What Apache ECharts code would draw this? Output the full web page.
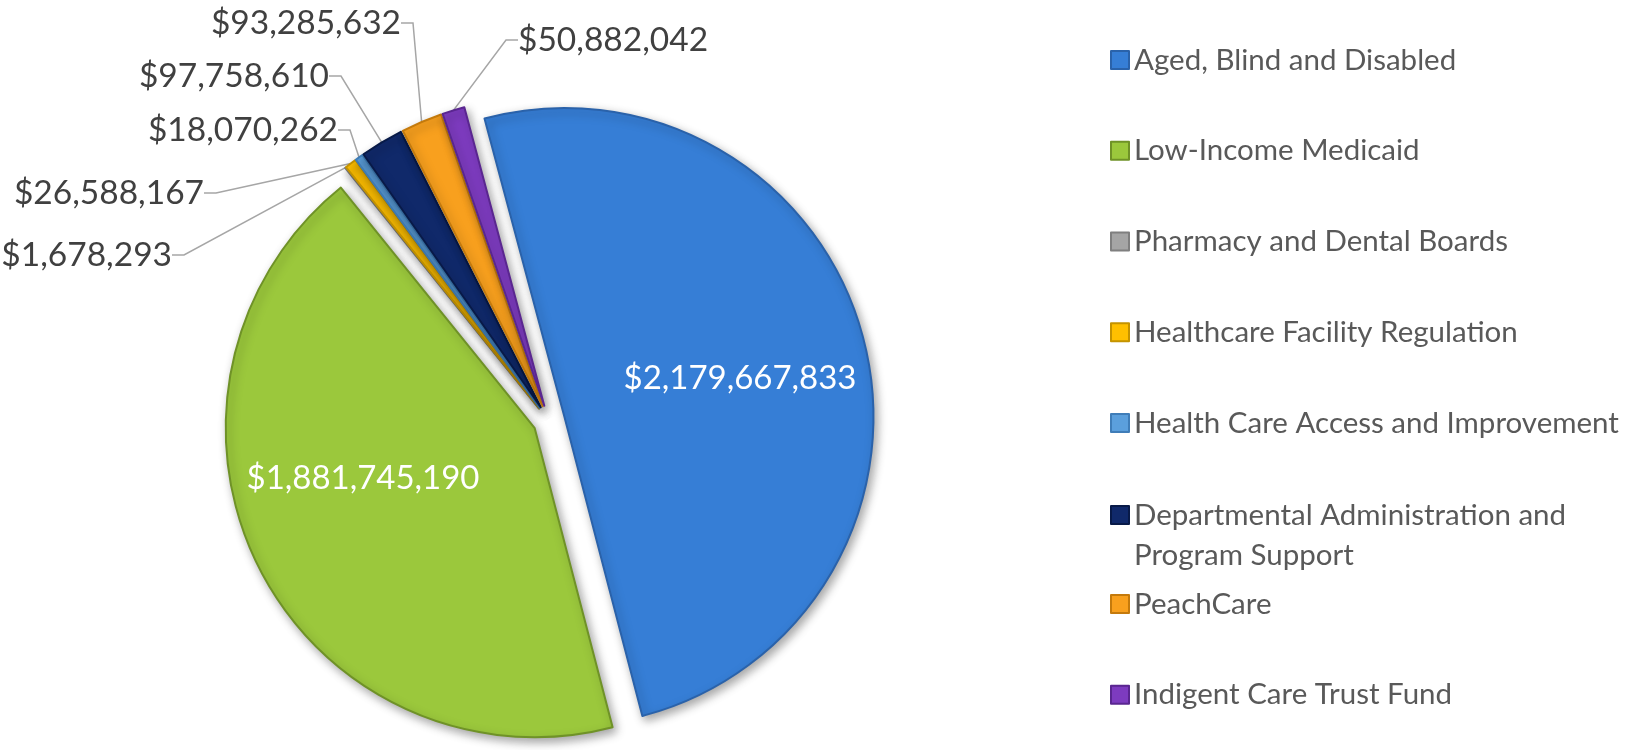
<!DOCTYPE html>
<html>
<head>
<meta charset="utf-8">
<title>Budget by Program</title>
<script src="https://cdn.jsdelivr.net/npm/echarts@6/dist/echarts.min.js"></script>
<style>
  html, body { margin: 0; padding: 0; background: #ffffff; }
  #chart { width: 1633px; height: 750px; }
</style>
</head>
<body>
<div id="chart"></div>
<script>
// Program names (legend order, clockwise from the top of the pie)
const programs = [
  'Aged, Blind and Disabled',
  'Low-Income Medicaid',
  'Pharmacy and Dental Boards',
  'Healthcare Facility Regulation',
  'Health Care Access and Improvement',
  'Departmental Administration and Program Support',
  'PeachCare',
  'Indigent Care Trust Fund'
];

// Funding amounts in dollars
const amounts = [
  2179667833,
  1881745190,
  1678293,
  26588167,
  18070262,
  97758610,
  93285632,
  50882042
];

// Slice fills and their darker rims
const fills = ['#367ED6', '#9BC83C', '#A5A5A5', '#FFC000', '#5B9FDC', '#10296A', '#F8A01E', '#7D3BBF'];
const rims  = ['#2A62AA', '#6F9227', '#7F7F7F', '#C49300', '#3F7DB8', '#081A48', '#C47A0C', '#5A2690'];

// Where each value label sits: [x, y, align]
const labelSpots = [
  [740, 378, 'center'],
  [363, 478, 'center'],
  [172, 255, 'right'],
  [204, 193, 'right'],
  [338, 130, 'right'],
  [329, 76, 'right'],
  [401, 23, 'right'],
  [518, 40, 'left']
];

const money = v => '$' + v.toLocaleString('en-US');
const FONT = 'Lato, "Open Sans", sans-serif';

// Pie geometry: the first slice begins 15 degrees left of 12 o'clock
const CENTER = [549, 421];
const RADIUS = 309;
const START = 105;          // ECharts angle (counter-clockwise from 3 o'clock)
const EXPLODE = 16;         // every slice is pulled out by this many pixels

// Each slice is pulled away from the centre along its own bisector
const total = amounts.reduce((a, b) => a + b, 0);
let running = 0;
const bisectors = amounts.map(v => {
  const mid = running + v / 2;
  running += v;
  return (START - 360 * mid / total) * Math.PI / 180;
});

// One pie layer per program; only its own slice is painted in that layer
const layers = programs.map((_, k) => ({
  type: 'pie',
  center: [
    CENTER[0] + EXPLODE * Math.cos(bisectors[k]),
    CENTER[1] - EXPLODE * Math.sin(bisectors[k])
  ],
  radius: [0, RADIUS],
  startAngle: START,
  clockwise: true,
  silent: true,
  avoidLabelOverlap: false,
  emphasis: { disabled: true },
  label: {
    position: 'outside',
    fontFamily: FONT,
    formatter: p => money(p.value)
  },
  labelLine: {
    length: 10,
    length2: 12,
    smooth: false,
    lineStyle: { color: '#A6A6A6', width: 1.5 }
  },
  labelLayout: params => {
    const s = labelSpots[k];
    return { x: s[0], y: s[1], align: s[2], verticalAlign: 'middle' };
  },
  data: programs.map((name, i) => {
    const own = i === k;
    const inner = i < 2;
    return {
      name: name,
      value: amounts[i],
      itemStyle: own
        ? {
            color: fills[i], borderColor: rims[i], borderWidth: 2,
            shadowBlur: 10, shadowColor: 'rgba(0,0,0,0.35)',
            shadowOffsetX: 3, shadowOffsetY: 4
          }
        : { color: 'rgba(0,0,0,0)', borderWidth: 0, shadowColor: 'rgba(0,0,0,0)' },
      label: own
        ? (inner ? { show: true, color: '#ffffff', fontSize: 33 }
                 : { show: true, color: '#404040', fontSize: 33.5 })
        : { show: false },
      labelLine: { show: own && !inner }
    };
  })
}));

const legendItems = programs.map((name, i) => ({
  name: name,
  itemStyle: { color: fills[i], borderColor: rims[i], borderWidth: 2 }
}));
const legendText = { fontFamily: FONT, fontSize: 29.5, color: '#595959' };
const legendBase = {
  orient: 'vertical', left: 1105,
  itemWidth: 18, itemHeight: 18, itemGap: 60.75,
  selectedMode: false, icon: 'rect',
  textStyle: legendText
};

const chart = echarts.init(document.getElementById('chart'), null, { renderer: 'canvas' });
chart.setOption({
  animation: false,
  backgroundColor: '#ffffff',
  legend: [
    Object.assign({}, legendBase, { top: 40, data: legendItems.slice(0, 5) }),
    Object.assign({}, legendBase, {
      top: 450,
      textStyle: Object.assign({ lineHeight: 40 }, legendText),
      // blank first line keeps the swatch level with the first text line
      formatter: () => '\nDepartmental Administration and\nProgram Support',
      data: legendItems.slice(5, 6)
    }),
    Object.assign({}, legendBase, { top: 584, data: legendItems.slice(6) })
  ],
  series: layers
});
</script>
</body>
</html>
